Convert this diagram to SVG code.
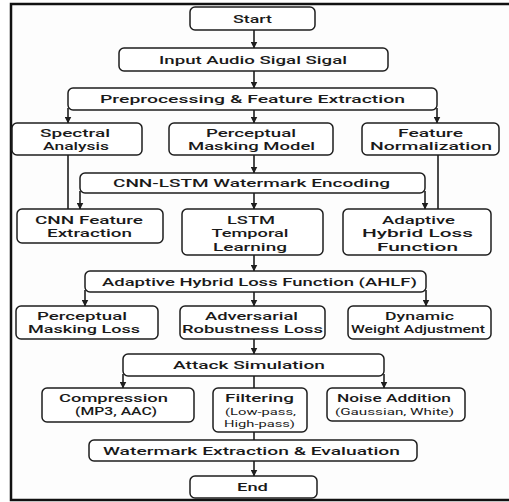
<svg xmlns="http://www.w3.org/2000/svg" width="509" height="502" viewBox="0 0 509 502">
<style>
.bx{fill:#fff;stroke:#1e1e1e;stroke-width:1.5}
.ln{fill:none;stroke:#1e1e1e;stroke-width:1.6}
.ar{fill:none;stroke:#1e1e1e;stroke-width:1.6;marker-end:url(#ah)}
text{font-family:Roboto,"Liberation Sans",sans-serif;font-weight:500;font-size:10.8px;fill:#1a1a1a;text-anchor:middle}
.sm{font-size:9.8px;font-weight:400}
</style>
<defs>
<marker id="ah" markerUnits="userSpaceOnUse" markerWidth="7" markerHeight="7" refX="6.5" refY="3.5" orient="auto">
<path d="M0,0 L7,3.5 L0,7 z" fill="#1e1e1e"/>
</marker>
</defs>
<rect x="0" y="0" width="509" height="502" fill="#fff"/>
<rect x="11" y="4" width="510" height="496" fill="#fdfdfd" stroke="#111" stroke-width="2.5"/>

<g id="connectors">
<path class="ar" d="M254,30 V48"/>
<path class="ar" d="M254,71 V88"/>
<path class="ar" d="M68,108 V123"/>
<path class="ar" d="M254,110 V123"/>
<path class="ar" d="M437,108 V123"/>
<path class="ar" d="M254,155 V173"/>
<path class="ln" d="M68,155 V209"/>
<path class="ln" d="M438,155 V209"/>
<path class="ar" d="M80,191 V209"/>
<path class="ar" d="M254,193 V209"/>
<path class="ar" d="M425,191 V209"/>
<path class="ar" d="M254,255 V271"/>
<path class="ar" d="M85,290 V306"/>
<path class="ar" d="M254,292 V306"/>
<path class="ar" d="M426,290 V306"/>
<path class="ar" d="M254,339 V354"/>
<path class="ar" d="M123,374 V388"/>
<path class="ln" d="M254,376 V388"/>
<path class="ar" d="M384,374 V388"/>
<path class="ln" d="M254,432 V440"/>
<path class="ar" d="M254,461 V476"/>
</g>

<g id="start"><rect class="bx" x="190" y="7" width="125" height="23" rx="5"/><text x="252.5" y="22.5" textLength="39" lengthAdjust="spacingAndGlyphs">Start</text></g>
<g id="input"><rect class="bx" x="119" y="48" width="269" height="23" rx="5"/><text x="253" y="63.5" textLength="188" lengthAdjust="spacingAndGlyphs">Input Audio Sigal Sigal</text></g>
<g id="preproc"><rect class="bx" x="68" y="88" width="369" height="22" rx="5"/><text x="252.5" y="103" textLength="305" lengthAdjust="spacingAndGlyphs">Preprocessing &amp; Feature Extraction</text></g>

<g id="spectral"><rect class="bx" x="12" y="123" width="130" height="32" rx="5"/><text x="75" y="137" textLength="70" lengthAdjust="spacingAndGlyphs">Spectral</text><text x="76" y="150" textLength="66" lengthAdjust="spacingAndGlyphs">Analysis</text></g>
<g id="pmm"><rect class="bx" x="169" y="123" width="164" height="32" rx="5"/><text x="251" y="137" textLength="90" lengthAdjust="spacingAndGlyphs">Perceptual</text><text x="251.5" y="150" textLength="127" lengthAdjust="spacingAndGlyphs">Masking Model</text></g>
<g id="featnorm"><rect class="bx" x="362" y="123" width="137" height="32" rx="5"/><text x="430.5" y="137" textLength="65" lengthAdjust="spacingAndGlyphs">Feature</text><text x="431" y="150" textLength="122" lengthAdjust="spacingAndGlyphs">Normalization</text></g>

<g id="cnnlstm"><rect class="bx" x="80" y="173" width="345" height="20" rx="5"/><text x="251.5" y="187" textLength="277" lengthAdjust="spacingAndGlyphs">CNN-LSTM Watermark Encoding</text></g>

<g id="cnnfeat"><rect class="bx" x="17" y="209" width="146" height="34" rx="5"/><text x="89" y="224" textLength="108" lengthAdjust="spacingAndGlyphs">CNN Feature</text><text x="89.5" y="237" textLength="85" lengthAdjust="spacingAndGlyphs">Extraction</text></g>
<g id="lstm"><rect class="bx" x="182" y="209" width="141" height="46" rx="5"/><text x="251" y="223.5" textLength="48" lengthAdjust="spacingAndGlyphs">LSTM</text><text x="250" y="237" textLength="77" lengthAdjust="spacingAndGlyphs">Temporal</text><text x="250" y="250.5" textLength="74" lengthAdjust="spacingAndGlyphs">Learning</text></g>
<g id="ahlfbox"><rect class="bx" x="343" y="209" width="148" height="46" rx="5"/><text x="418.5" y="223.5" textLength="73" lengthAdjust="spacingAndGlyphs">Adaptive</text><text x="417.5" y="237" textLength="111" lengthAdjust="spacingAndGlyphs">Hybrid Loss</text><text x="417.5" y="250.5" textLength="81" lengthAdjust="spacingAndGlyphs">Function</text></g>

<g id="ahlf"><rect class="bx" x="85" y="271" width="341" height="21" rx="5"/><text x="259.5" y="285.5" textLength="315" lengthAdjust="spacingAndGlyphs">Adaptive Hybrid Loss Function (AHLF)</text></g>

<g id="pml"><rect class="bx" x="16" y="306" width="142" height="33" rx="5"/><text x="82" y="319.5" textLength="90" lengthAdjust="spacingAndGlyphs">Perceptual</text><text x="84" y="332.5" textLength="112" lengthAdjust="spacingAndGlyphs">Masking Loss</text></g>
<g id="arl"><rect class="bx" x="180" y="306" width="145" height="33" rx="5"/><text x="251.5" y="319.5" textLength="93" lengthAdjust="spacingAndGlyphs">Adversarial</text><text x="252.5" y="332.5" textLength="141" lengthAdjust="spacingAndGlyphs">Robustness Loss</text></g>
<g id="dwa"><rect class="bx" x="348" y="306" width="143" height="33" rx="5"/><text x="419.5" y="319.5" textLength="69" lengthAdjust="spacingAndGlyphs">Dynamic</text><text x="418" y="332.5" textLength="134" lengthAdjust="spacingAndGlyphs">Weight Adjustment</text></g>

<g id="attack"><rect class="bx" x="123" y="354" width="261" height="22" rx="5"/><text x="249" y="369" textLength="152" lengthAdjust="spacingAndGlyphs">Attack Simulation</text></g>

<g id="compression"><rect class="bx" x="42" y="388" width="152" height="34" rx="5"/><text x="113.5" y="402" textLength="109" lengthAdjust="spacingAndGlyphs">Compression</text><text x="116" y="415" textLength="82" lengthAdjust="spacingAndGlyphs">(MP3, AAC)</text></g>
<g id="filtering"><rect class="bx" x="213" y="388" width="94" height="44" rx="5"/><text x="259.5" y="402" textLength="69" lengthAdjust="spacingAndGlyphs">Filtering</text><text class="sm" x="260.5" y="414.5" textLength="71" lengthAdjust="spacingAndGlyphs">(Low-pass,</text><text class="sm" x="259.5" y="426.5" textLength="71" lengthAdjust="spacingAndGlyphs">High-pass)</text></g>
<g id="noise"><rect class="bx" x="327" y="388" width="138" height="33" rx="5"/><text x="394" y="402" textLength="114" lengthAdjust="spacingAndGlyphs">Noise Addition</text><text class="sm" x="394.5" y="414.5" textLength="119" lengthAdjust="spacingAndGlyphs">(Gaussian, White)</text></g>

<g id="wmext"><rect class="bx" x="89" y="440" width="328" height="21" rx="5"/><text x="251.5" y="455" textLength="297" lengthAdjust="spacingAndGlyphs">Watermark Extraction &amp; Evaluation</text></g>
<g id="end"><rect class="bx" x="190" y="476" width="127" height="22" rx="5"/><text x="252.5" y="491" textLength="31" lengthAdjust="spacingAndGlyphs">End</text></g>
</svg>
